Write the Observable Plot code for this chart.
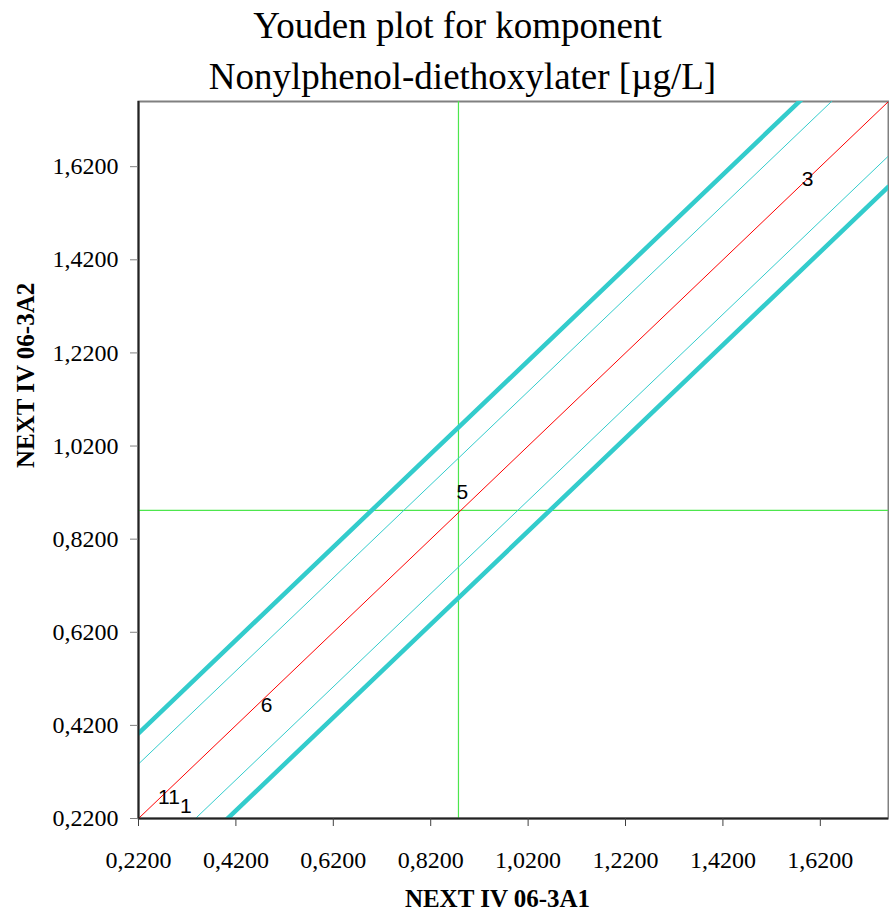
<!DOCTYPE html>
<html>
<head>
<meta charset="utf-8">
<script src="https://cdn.jsdelivr.net/npm/d3@7"></script>
<script src="https://cdn.jsdelivr.net/npm/@observablehq/plot@0.6"></script>
<style>
  html, body { margin: 0; padding: 0; background: #fff; }
</style>
</head>
<body>
<div id="chart"></div>
<script>
// ---- data ----
const titleLines = ["Youden plot for komponent", "Nonylphenol-diethoxylater [µg/L]"];
const xTitle = "NEXT IV 06-3A1";
const yTitle = "NEXT IV 06-3A2";
const xDomain = [0.22, 1.76];
const yDomain = [0.22, 1.76];
const tickValues = [0.22, 0.42, 0.62, 0.82, 1.02, 1.22, 1.42, 1.62];
const medianX = [0.877];
const medianY = [0.882];
// diagonal lines y = x + offset
const lineOffsets = [-0.183, -0.117, 0, 0.117, 0.183];
const lineKinds   = ["outer", "inner", "center", "inner", "outer"];
// lab labels (label positions)
const labNames = ["3", "5", "6", "11", "1"];
const labX = [1.594, 0.885, 0.483, 0.2825, 0.317];
const labY = [1.593, 0.920, 0.4635, 0.265, 0.246];

// ---- build tables ----
const lineData = lineOffsets.flatMap((o, i) => [
  {id: i, kind: lineKinds[i], x: xDomain[0], y: xDomain[0] + o},
  {id: i, kind: lineKinds[i], x: xDomain[1], y: xDomain[1] + o}
]);
const labs = labNames.map((n, i) => ({name: n, x: labX[i], y: labY[i]}));
const fmt = d => d.toFixed(4).replace(".", ",");
const styleOf = {
  outer: {stroke: "#33cccc", w: 4.5},
  inner: {stroke: "#33cccc", w: 1},
  center: {stroke: "#ff0000", w: 1}
};
const serif = "'Liberation Serif', 'Times New Roman', serif";

const chart = Plot.plot({
  width: 889,
  height: 912,
  marginLeft: 138,
  marginRight: 1,
  marginTop: 101,
  marginBottom: 94,
  style: {fontFamily: serif, fontSize: "24px", background: "#fff", color: "#000"},
  x: {domain: xDomain},
  y: {domain: yDomain},
  marks: [
    Plot.frame({stroke: "#808080", strokeWidth: 2}),
    Plot.ruleX(medianX, {stroke: "#4de64d", strokeWidth: 1.2}),
    Plot.ruleY(medianY, {stroke: "#4de64d", strokeWidth: 1.2}),
    ...["outer", "inner", "center"].map(k =>
      Plot.line(lineData.filter(d => d.kind === k), {
        x: "x", y: "y", z: "id",
        stroke: styleOf[k].stroke, strokeWidth: styleOf[k].w, clip: true
      })
    ),
    Plot.ruleX([xDomain[0]], {stroke: "#222", strokeWidth: 2}),
    Plot.ruleY([yDomain[0]], {stroke: "#222", strokeWidth: 2}),
    Plot.axisX({ticks: tickValues, tickFormat: fmt, tickSize: 8, tickPadding: 24, stroke: "#404040", label: null, fontSize: 24, fontFamily: serif}),
    Plot.axisY({ticks: tickValues, tickFormat: fmt, tickSize: 8, tickPadding: 12, stroke: "#808080", label: null, fontSize: 24, fontFamily: serif}),
    Plot.text(labs, {x: "x", y: "y", text: "name", fontFamily: "'Liberation Sans', Arial, sans-serif", fontSize: 21, fill: "#000"}),
    Plot.text([titleLines[0]], {frameAnchor: "top-left", dx: 319, dy: -64, text: d => d, textAnchor: "middle", lineAnchor: "bottom", fontSize: 37, fontFamily: serif}),
    Plot.text([titleLines[1]], {frameAnchor: "top-left", dx: 324, dy: -13, text: d => d, textAnchor: "middle", lineAnchor: "bottom", fontSize: 37, fontFamily: serif}),
    Plot.text([xTitle], {frameAnchor: "bottom", dx: -16, dy: 88, text: d => d, lineAnchor: "bottom", fontWeight: "bold", fontSize: 25, fontFamily: serif}),
    Plot.text([yTitle], {frameAnchor: "left", dx: -105, dy: 8, rotate: -90, text: d => d, lineAnchor: "bottom", fontWeight: "bold", fontSize: 25, fontFamily: serif})
  ]
});
document.getElementById("chart").appendChild(chart);
</script>
</body>
</html>
